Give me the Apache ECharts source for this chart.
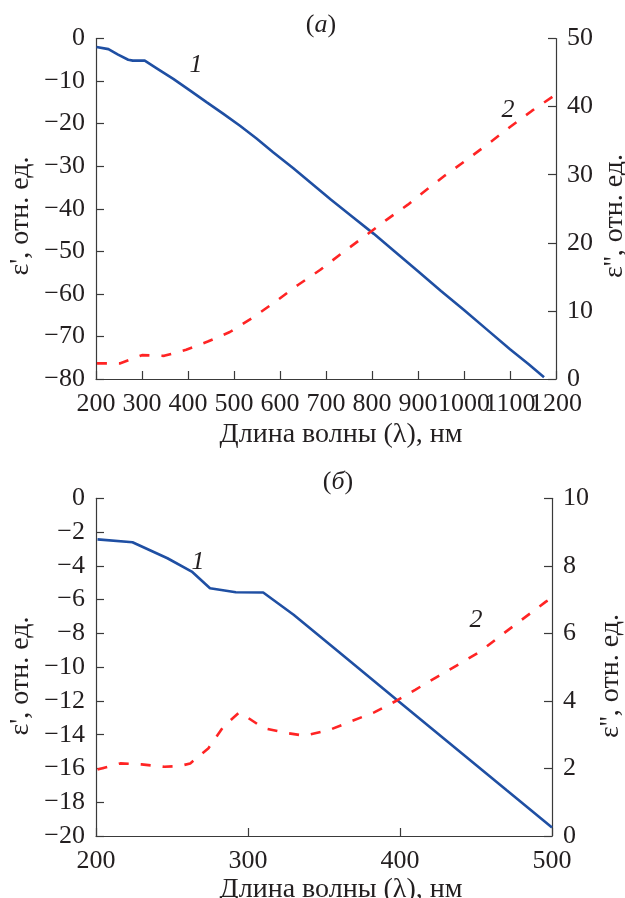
<!DOCTYPE html>
<html><head><meta charset="utf-8">
<script src="https://cdn.jsdelivr.net/npm/echarts@6/dist/echarts.min.js"></script>
<style>html,body{margin:0;padding:0;background:#fff}#c{width:625px;height:898px}</style>
</head><body><div id="c"></div>
<script>
// Panel (а): ε' (curve 1) and ε'' (curve 2) vs wavelength, nm
const wlA1  = [201,227,248,270,280,306,332,368,404,441,477,513,549,585,629,670,711,760,804,850,900,950,1000,1050,1100,1140,1174];
const epsA1 = [-2.0,-2.5,-3.8,-5.0,-5.2,-5.2,-7.0,-9.5,-12.2,-15.0,-17.7,-20.5,-23.5,-26.7,-30.5,-34.2,-37.9,-42.1,-45.9,-50.1,-54.7,-59.3,-63.8,-68.4,-73.0,-76.5,-79.6];
const wlA2  = [202,253,300,348,396,443,491,543,591,639,687,735,783,830,878,913,957,1004,1052,1100,1148,1196];
const epsA2 = [2.3,2.3,3.5,3.4,4.3,5.5,6.9,9.1,11.4,13.8,16.0,18.5,20.9,23.3,25.6,27.5,29.8,32.1,34.5,37.0,39.4,41.6];
// Panel (б)
const wlB1  = [201,224,247,263,275,292,310,330,360,400,440,470,500];
const epsB1 = [-2.43,-2.6,-3.55,-4.34,-5.33,-5.56,-5.58,-6.9,-9.12,-12.09,-15.05,-17.28,-19.5];
const wlB2  = [201,216,230,245,255,262,274,284,294,300,310,324,337,353,368,383,397,410,425,440,453,467,480,496,500];
const epsB2 = [1.97,2.15,2.12,2.05,2.07,2.15,2.6,3.25,3.65,3.5,3.2,3.06,2.97,3.13,3.4,3.66,3.99,4.33,4.73,5.12,5.47,5.96,6.4,6.94,7.05];
// axis ranges / ticks
const xA = {min:200,max:1200,step:100};
const yA1 = {min:-80,max:0,step:10};
const yA2 = {min:0,max:50,step:10};
const xB = {min:200,max:500,step:100};
const yB1 = {min:-20,max:0,step:2};
const yB2 = {min:0,max:10,step:2};
const xName = 'Длина волны (λ), нм';
const y1Name = "ε', отн. ед.";
const y2Name = "ε'', отн. ед.";

const pairs = (xs, ys) => xs.map((x,i)=>[x, ys[i]]);
const FONT = 'Liberation Serif';
const fmt = v => v < 0 ? '\u2212' + (-v) : String(v);
const LBL = 26;
function ax(extra, r){
  return Object.assign({type:'value',min:r.min,max:r.max,interval:r.step,
    axisLine:{show:true,onZero:false,lineStyle:{color:'#3a3a3a',width:1.2}},
    axisTick:{show:true,inside:true,length:8,lineStyle:{color:'#3a3a3a',width:1.2}},
    splitLine:{show:false},
    axisLabel:{fontFamily:FONT,fontSize:LBL,color:'#231f20',margin:11,formatter:fmt,showMinLabel:true,showMaxLabel:true,hideOverlap:false}
  }, extra);
}
// top x axis: labels split over two axes (even / odd hundreds) so crowded labels all show
const evenFmt = v => (Math.round(v/100) % 2 === 0) ? String(v) : '';
const oddFmt  = v => (Math.round(v/100) % 2 === 1) ? String(v) : '';
const xTop = ax({gridIndex:0, position:'bottom'}, xA); xTop.axisLabel.formatter = evenFmt; xTop.axisLabel.margin = 12;
const xTop2 = ax({gridIndex:0, position:'bottom'}, xA); xTop2.axisLabel.formatter = oddFmt; xTop2.axisLabel.margin = 12;
xTop2.axisLine = {show:false,onZero:false}; xTop2.axisTick = {show:false};
const xBot = ax({gridIndex:1, position:'bottom'}, xB); xBot.axisLabel.margin = 12;
const yAx = [ax({gridIndex:0,position:'left'},yA1), ax({gridIndex:0,position:'right'},yA2),
             ax({gridIndex:1,position:'left'},yB1), ax({gridIndex:1,position:'right'},yB2)];

const blue = '#1f4fa3', red = '#ff2424';
function blueS(xi, yi, d){ return {type:'line',xAxisIndex:xi,yAxisIndex:yi,data:d,showSymbol:false,lineStyle:{color:blue,width:2.6},silent:true,animation:false}; }
function redS(xi, yi, d){ return {type:'line',xAxisIndex:xi,yAxisIndex:yi,data:d,showSymbol:false,lineStyle:{color:red,width:2.6,type:[10,12]},silent:true,animation:false}; }

function txt(x,y,text,size,opts){
  return {type:'text',x:x,y:y,style:Object.assign({text:text,fontFamily:FONT,fontSize:size,fill:'#231f20',align:'center',verticalAlign:'middle'},opts||{})};
}
function rtxt(x,y,text,size){
  return {type:'text',x:x,y:y,rotation:Math.PI/2,style:{text:text,fontFamily:FONT,fontSize:size,fill:'#231f20',align:'center',verticalAlign:'middle'}};
}
function panel(x,y,letter){
  return {type:'text',x:x,y:y,style:{text:'(' + '{i|'+letter+'}' + ')',fontFamily:FONT,fontSize:26,fill:'#231f20',align:'center',verticalAlign:'middle',
    rich:{i:{fontFamily:FONT,fontSize:26,fontStyle:'italic',fill:'#231f20'}}}};
}
const ital = {fontStyle:'italic'};

const chart = echarts.init(document.getElementById('c'), null, {renderer:'canvas'});
chart.setOption({
  backgroundColor:'#fff',
  animation:false,
  grid:[{left:96,right:69,top:38.5,height:340.5},{left:96,right:73,top:498.3,height:337.7}],
  xAxis:[xTop, xBot, xTop2],
  yAxis:yAx,
  series:[blueS(0,0,pairs(wlA1,epsA1)), redS(0,1,pairs(wlA2,epsA2)),
          blueS(1,2,pairs(wlB1,epsB1)), redS(1,3,pairs(wlB2,epsB2))],
  graphic:[
    panel(321,25,'а'), panel(338,482,'б'),
    txt(196,65,'1',26,ital), txt(508,110,'2',26,ital),
    txt(198,562,'1',26,ital), txt(476,620,'2',26,ital),
    txt(341,435,xName,28), txt(341,890,xName,28),
    rtxt(21,216,y1Name,28), rtxt(615,216,y2Name,28),
    rtxt(21,676,y1Name,28), rtxt(611,676,y2Name,28)
  ]
});
</script></body></html>
